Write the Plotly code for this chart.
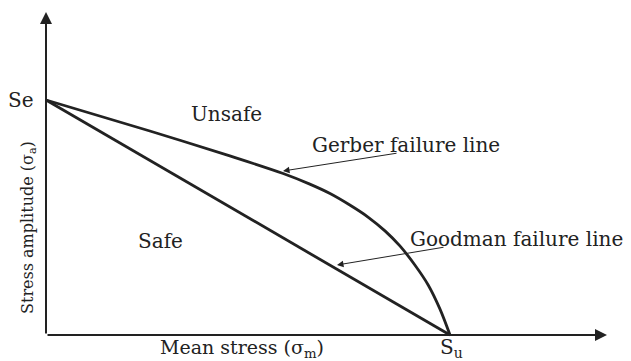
import plotly.graph_objects as go

# values (normalised: Su = 1 on the mean-stress axis, Se = 1 on the amplitude axis)
gerber_sm = [0.0, 0.257, 0.455, 0.587, 0.653, 0.703, 0.752, 0.797, 0.839,
             0.876, 0.913, 0.946, 0.975, 1.0]
gerber_sa = [1.0, 0.868, 0.762, 0.687, 0.642, 0.602, 0.553, 0.502, 0.443,
             0.379, 0.298, 0.213, 0.111, 0.0]
goodman_sm = [0.0, 1.0]
goodman_sa = [1.0, 0.0]

# pixel geometry of the drawing (page pixels; the page body adds an 8px margin)
W, H = 631, 361
PAGE_MARGIN = 8
ORIGIN_X, ORIGIN_Y = 46, 335
SU_PX, SE_PY = 450, 100
SX = SU_PX - ORIGIN_X
SY = ORIGIN_Y - SE_PY


def dx(px):
    return (px - ORIGIN_X) / SX


def dy(py):
    return (ORIGIN_Y - py) / SY


INK = '#222222'
FONT = 'DejaVu Serif'

fig = go.Figure()
fig.add_trace(go.Scatter(x=gerber_sm, y=gerber_sa, mode='lines',
                         line=dict(color=INK, width=2.8, shape='spline', smoothing=0.9),
                         hoverinfo='skip'))
fig.add_trace(go.Scatter(x=goodman_sm, y=goodman_sa, mode='lines',
                         line=dict(color=INK, width=2.8), hoverinfo='skip'))

ann = []


def arrow(x0, y0, x1, y1, width, head, size):
    ann.append(dict(x=dx(x1), y=dy(y1), ax=dx(x0), ay=dy(y0), xref='x', yref='y',
                    axref='x', ayref='y', text='', showarrow=True, arrowhead=head,
                    arrowwidth=width, arrowsize=size, arrowcolor=INK))


def label(px, py, text, size, anchor='center', angle=0):
    ann.append(dict(x=dx(px), y=dy(py), xref='x', yref='y', text=text, showarrow=False,
                    xanchor=anchor, yanchor='middle', textangle=angle,
                    font=dict(family=FONT, size=size, color=INK)))


# axes with arrow heads
arrow(ORIGIN_X, ORIGIN_Y, ORIGIN_X, 12, 2, 2, 1.2)
arrow(ORIGIN_X, ORIGIN_Y, 607, ORIGIN_Y, 2, 2, 1.2)
# pointers to the failure lines
arrow(398, 153, 283, 171, 1, 2, 1.3)
arrow(445, 247, 337, 265, 1, 2, 1.3)

label(36, 100, 'Se', 20, anchor='right')
label(226, 114, 'Unsafe', 20)
label(310, 145, 'Gerber failure line', 20, anchor='left')
label(408, 239, 'Goodman failure line', 20, anchor='left')
label(160, 241, 'Safe', 20)
label(242, 348, 'Mean stress (σ<sub>m</sub>)', 19)
label(451, 348, 'S<sub>u</sub>', 20)
label(28, 228, 'Stress amplitude (σ<sub>a</sub>)', 16, angle=-90)

fig.update_layout(
    width=W - PAGE_MARGIN, height=H - PAGE_MARGIN,
    margin=dict(l=0, r=0, t=0, b=0),
    paper_bgcolor='white', plot_bgcolor='white',
    showlegend=False,
    annotations=ann,
    xaxis=dict(range=[dx(PAGE_MARGIN), dx(W)], visible=False, fixedrange=True),
    yaxis=dict(range=[dy(H), dy(PAGE_MARGIN)], visible=False, fixedrange=True),
)

fig.write_html('out.html')
